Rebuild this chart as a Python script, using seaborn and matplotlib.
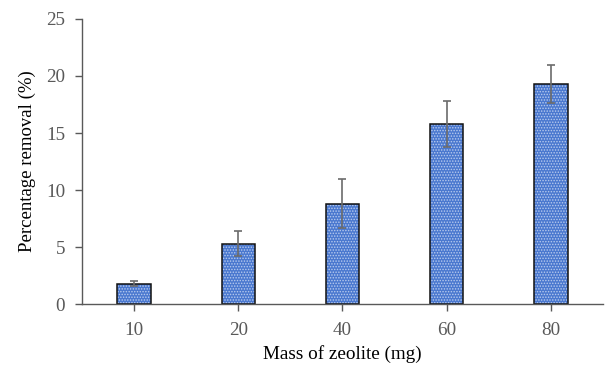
import matplotlib
matplotlib.use("Agg")
import matplotlib.pyplot as plt
import matplotlib.patches as mpatches
import pandas as pd
import seaborn as sns

# Zeolite dose vs. removal efficiency
mass_mg = ["10", "20", "40", "60", "80"]
removal_pct = [1.8, 5.3, 8.8, 15.8, 19.3]
removal_sd = [0.25, 1.1, 2.15, 2.0, 1.65]
y_ticks = [0, 5, 10, 15, 20, 25]

sns.set_theme(style="white")
plt.rcParams["font.family"] = ["Liberation Serif", "DejaVu Serif"]
plt.rcParams["hatch.linewidth"] = 0.7

grey = "#595959"
fill = "#4A78CF"
dots = "#B8CBEE"

df = pd.DataFrame({"mass": mass_mg, "removal": removal_pct})

fig = plt.figure(figsize=(6.11, 3.65), dpi=100)
ax = fig.add_axes([0.134, 0.167, 0.853, 0.781])

sns.barplot(data=df, x="mass", y="removal", order=mass_mg, color=fill,
            saturation=1, width=0.32, errorbar=None, ax=ax)

centers = []
for p in ax.patches:
    # dotted texture drawn via the hatch (hatch takes the edge colour)
    p.set_facecolor(fill)
    p.set_edgecolor(dots)
    p.set_hatch("......")
    p.set_linewidth(0)
    outline = mpatches.Rectangle(p.get_xy(), p.get_width(), p.get_height(),
                                 fill=False, edgecolor="#111111", linewidth=1.1,
                                 zorder=p.get_zorder() + 0.1)
    ax.add_patch(outline)
    centers.append(p.get_x() + p.get_width() / 2)

ax.errorbar(centers, removal_pct, yerr=removal_sd, fmt="none",
            ecolor="#6b6b6b", elinewidth=1.2, capsize=3, capthick=1.2, zorder=5)

ax.set_ylim(0, 25)
ax.set_yticks(y_ticks)
ax.set_xlim(-0.5, len(mass_mg) - 0.5)

for side in ["top", "right"]:
    ax.spines[side].set_visible(False)
for side in ["left", "bottom"]:
    ax.spines[side].set_color(grey)
    ax.spines[side].set_linewidth(1.0)

ax.tick_params(axis="both", which="major", direction="out", length=5,
               width=1.0, color=grey, labelcolor=grey, labelsize=13.8)
ax.tick_params(axis="x", pad=8, bottom=True)
ax.tick_params(axis="y", pad=7, left=True)

ax.set_xlabel("Mass of zeolite (mg)", fontsize=13.8, color="black", labelpad=4)
ax.set_ylabel("Percentage removal (%)", fontsize=13.5, color="black", labelpad=7)

fig.savefig("out.png", dpi=100)
